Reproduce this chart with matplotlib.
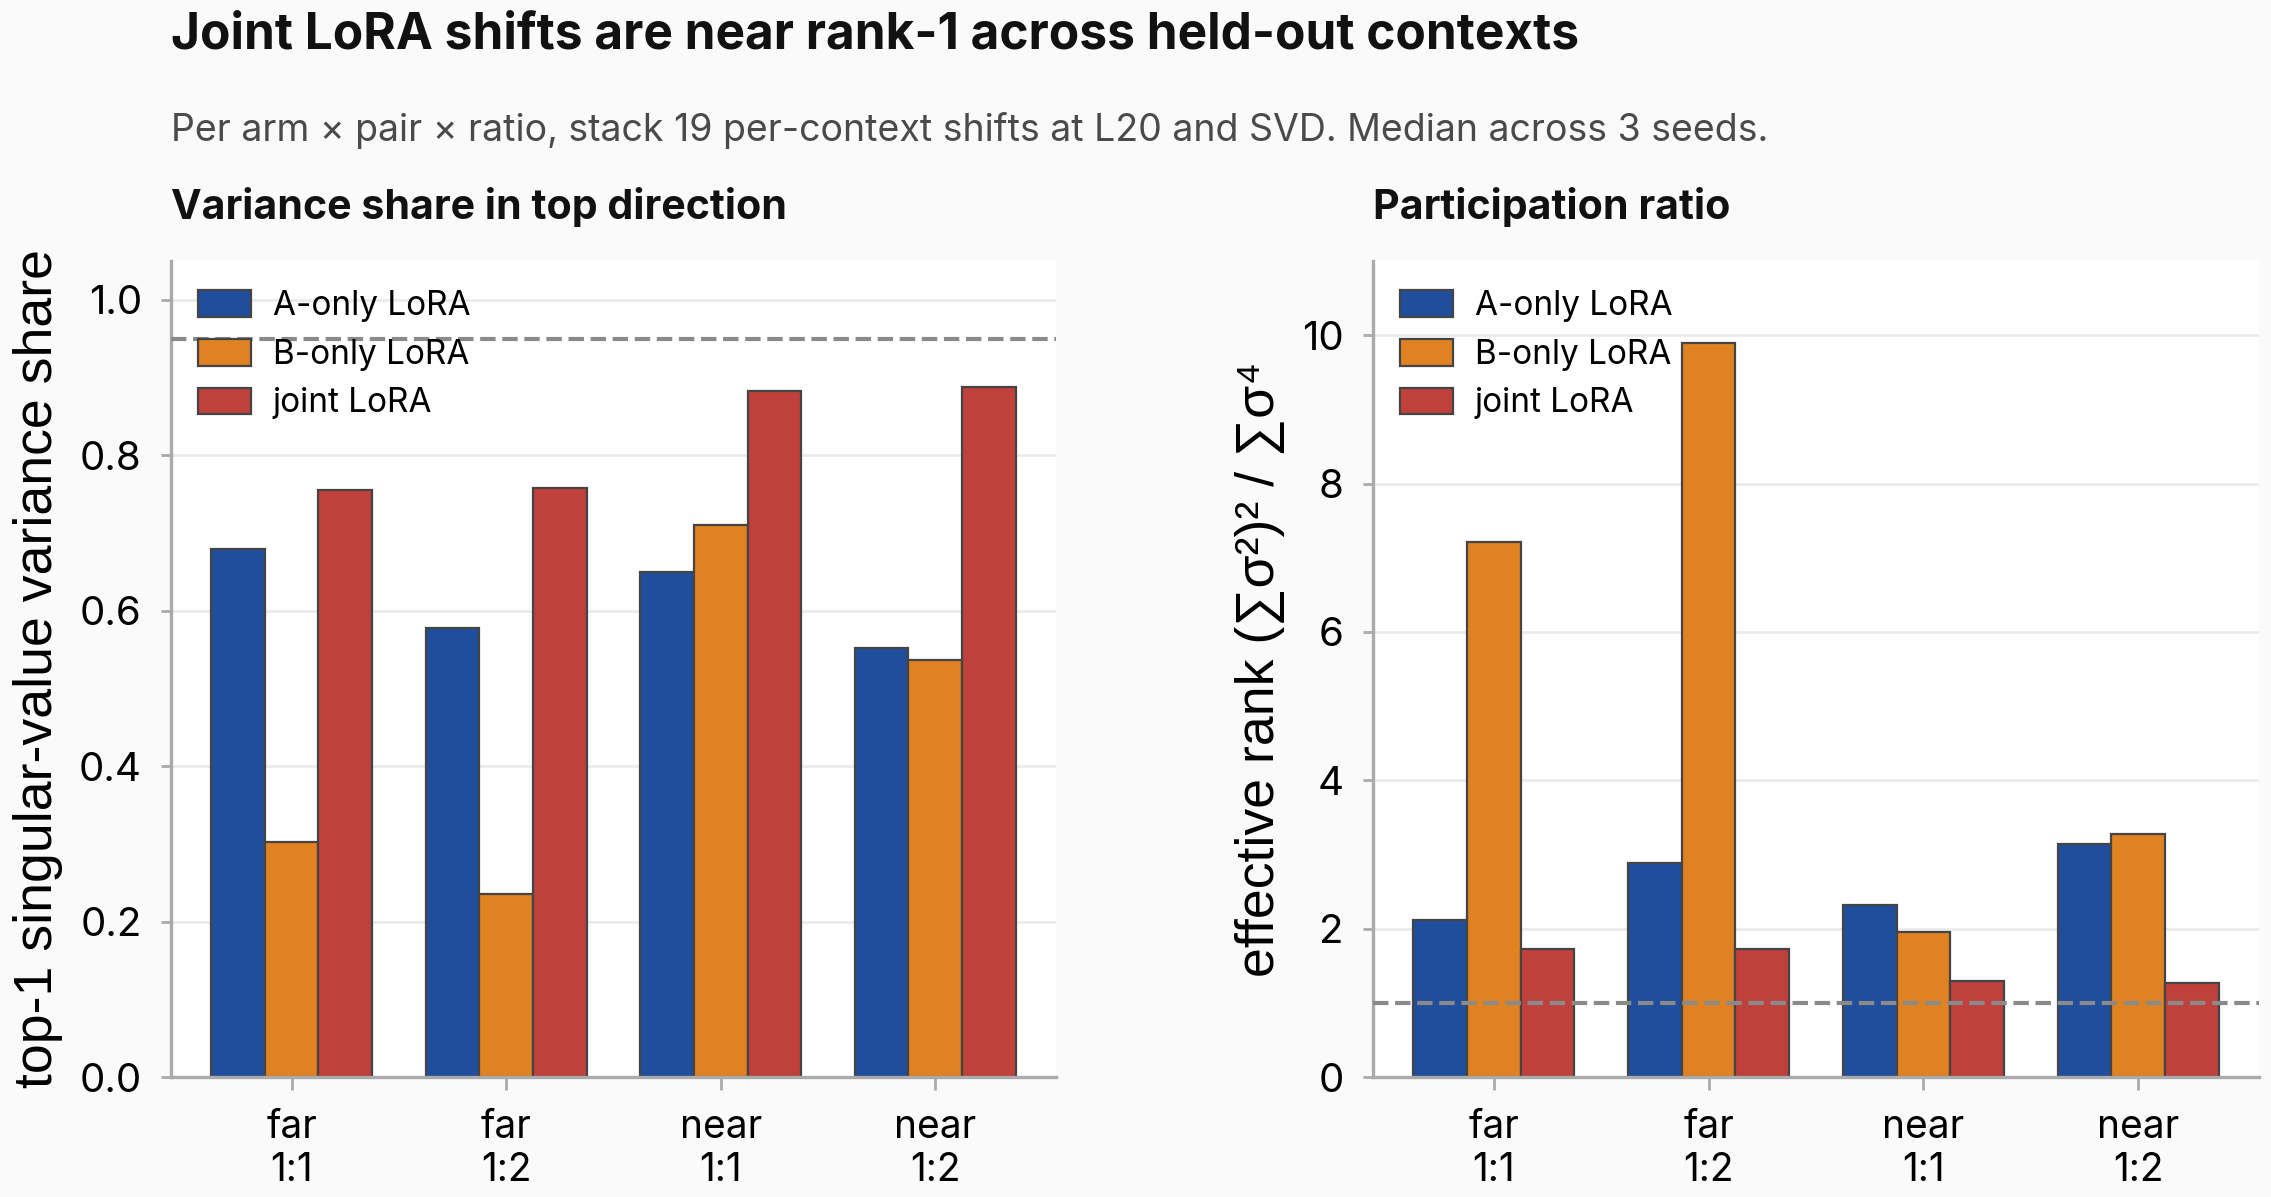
import numpy as np
import matplotlib
matplotlib.use("Agg")
import matplotlib.pyplot as plt

plt.rcParams['font.family'] = ['Inter', 'DejaVu Sans']

# data
groups = ['far\n1:1', 'far\n1:2', 'near\n1:1', 'near\n1:2']
arms = ['A-only LoRA', 'B-only LoRA', 'joint LoRA']
colors = ['#1f4e9d', '#e08222', '#c0403c']

top1_share = {
    'A-only LoRA': [0.680, 0.578, 0.650, 0.552],
    'B-only LoRA': [0.303, 0.236, 0.710, 0.537],
    'joint LoRA': [0.755, 0.758, 0.883, 0.888],
}
eff_rank = {
    'A-only LoRA': [2.12, 2.88, 2.32, 3.14],
    'B-only LoRA': [7.21, 9.90, 1.95, 3.27],
    'joint LoRA': [1.73, 1.72, 1.29, 1.27],
}
share_ref = 0.95
rank_ref = 1.0

W, H = 2271, 1197
fig = plt.figure(figsize=(W / 200, H / 200), dpi=200, facecolor='#fafafa')

ax1 = fig.add_axes([171 / W, 1 - 1077 / H, 885 / W, 816 / H])
ax2 = fig.add_axes([1373 / W, 1 - 1077 / H, 886 / W, 816 / H])


def draw_panel(ax, data, ref, ylim, yticks, ylabel, label_x):
    x = np.arange(len(groups))
    width = 0.25
    for i, arm in enumerate(arms):
        ax.bar(x + (i - 1) * width, data[arm], width, color=colors[i],
               edgecolor='#444444', linewidth=0.8, label=arm, zorder=2)
    ax.axhline(ref, color='#8a8a8a', linestyle='--', linewidth=1.5, zorder=3)
    ax.set_xticks(x)
    ax.set_xticklabels(groups, fontsize=14, linespacing=1.2)
    ax.set_ylim(*ylim)
    ax.set_yticks(yticks)
    ax.tick_params(axis='y', labelsize=14.5, length=3.5, color='#aaaaaa', width=1, pad=7)
    ax.tick_params(axis='x', length=4.5, color='#aaaaaa', width=1, pad=7)
    ax.set_facecolor('white')
    ax.grid(axis='y', color='#ebebeb', linewidth=1)
    ax.set_axisbelow(True)
    for s in ['top', 'right']:
        ax.spines[s].set_visible(False)
    for s in ['left', 'bottom']:
        ax.spines[s].set_color('#aaaaaa')
        ax.spines[s].set_linewidth(1.2)
    ax.set_ylabel(ylabel, fontsize=19.3, va='center',
                  family=['Liberation Sans', 'DejaVu Sans'])
    ax.yaxis.set_label_coords(label_x, 0.5)
    ax.legend(loc='upper left', frameon=False, fontsize=12,
              handlelength=1.6, handleheight=0.85, handletextpad=0.65,
              labelspacing=0.5, borderaxespad=0.4,
              bbox_to_anchor=(0.0, 0.997))


draw_panel(ax1, top1_share, share_ref, (0, 1.05),
           [0.0, 0.2, 0.4, 0.6, 0.8, 1.0],
           'top-1 singular-value variance share', -0.150)
ax1.set_yticklabels(['0.0', '0.2', '0.4', '0.6', '0.8', '1.0'])
draw_panel(ax2, eff_rank, rank_ref, (0, 11), [0, 2, 4, 6, 8, 10],
           'effective rank (∑σ²)² / ∑σ⁴', -0.1275)

fig.text(171 / W, 1 - 35 / H, 'Joint LoRA shifts are near rank-1 across held-out contexts',
         fontsize=17.85, fontweight='bold', ha='left', va='center', color='#111111')
fig.text(171 / W, 1 - 131 / H,
         'Per arm × pair × ratio, stack 19 per-context shifts at L20 and SVD. Median across 3 seeds.',
         fontsize=13.5, ha='left', va='center', color='#4a4a4a')
fig.text(171 / W, 1 - 207 / H, 'Variance share in top direction',
         fontsize=14.8, fontweight='bold', ha='left', va='center', color='#111111')
fig.text(1373 / W, 1 - 207 / H, 'Participation ratio',
         fontsize=14.8, fontweight='bold', ha='left', va='center', color='#111111')

fig.savefig('out.png', dpi=200, facecolor=fig.get_facecolor())
